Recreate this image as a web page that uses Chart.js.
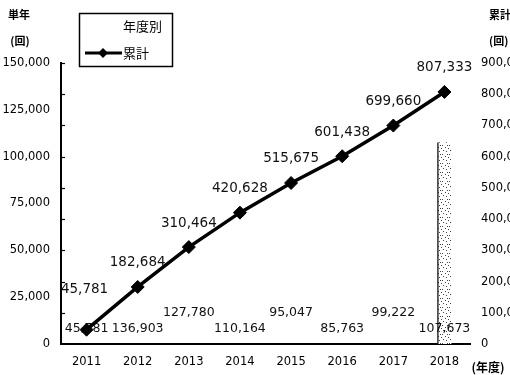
<!DOCTYPE html>
<html>
<head>
<meta charset="utf-8">
<script src="https://cdn.jsdelivr.net/npm/chart.js@4.4.0/dist/chart.umd.min.js"></script>
<style>
html, body { margin: 0; padding: 0; background: #fff; }
#wrap { width: 510px; height: 375px; position: relative; }
</style>
</head>
<body>
<div id="wrap"><canvas id="chart"></canvas></div>
<script>
// 年度別 / 累計 counts
const years = ['2011', '2012', '2013', '2014', '2015', '2016', '2017', '2018'];
const yearly = [45781, 136903, 127780, 110164, 95047, 85763, 99222, 107673];
const cumulative = [45781, 182684, 310464, 420628, 515675, 601438, 699660, 807333];
const leftTicks = [0, 25000, 50000, 75000, 100000, 125000, 150000];
const rightTicks = [0, 100000, 200000, 300000, 400000, 500000, 600000, 700000, 800000, 900000];

const fmt = v => v.toLocaleString('en-US');
const jp = '"Noto Sans CJK JP"';
const num = '"DejaVu Sans"';

// speckled fill for the last bar
function speckle() {
    const c = document.createElement('canvas');
    c.width = 7; c.height = 9;
    const g = c.getContext('2d');
    g.fillStyle = '#fff';
    g.fillRect(0, 0, 7, 9);
    g.fillStyle = '#444';
    [[1, 1], [4, 3], [2, 6], [5, 7], [0, 4], [6, 1]].forEach(p => g.fillRect(p[0], p[1], 1, 1));
    return g.createPattern(c, 'repeat');
}
const dots = speckle();

const valueLabels = {
    id: 'valueLabels',
    afterDatasetDraw(chart, args) {
        if (args.meta.type !== 'bar') return;
        const ctx = chart.ctx, area = chart.chartArea;
        ctx.save();
        ctx.fillStyle = '#111';
        ctx.textAlign = 'center';
        ctx.textBaseline = 'middle';
        ctx.font = '12.5px ' + num;
        args.meta.data.forEach((bar, i) => {
            const raised = i % 2 === 0 && i > 0;
            ctx.fillText(fmt(yearly[i]), bar.x, area.bottom - (raised ? 31 : 15));
        });
        ctx.restore();
    },
    afterDatasetsDraw(chart) {
        const ctx = chart.ctx;
        const meta = chart.getDatasetMeta(1);
        ctx.save();
        ctx.fillStyle = '#111';
        ctx.textAlign = 'center';
        ctx.textBaseline = 'middle';
        ctx.font = '13.5px ' + num;
        meta.data.forEach((pt, i) => {
            const lift = i === 0 ? 40 : 24;
            ctx.fillText(fmt(cumulative[i]), pt.x - (i === 0 ? 2 : 0), pt.y - lift);
        });
        ctx.restore();
    }
};

const decorations = {
    id: 'decorations',
    afterDraw(chart) {
        const ctx = chart.ctx, area = chart.chartArea;
        const y1 = chart.scales.y1;
        ctx.save();

        // short inward ticks on the left axis
        ctx.strokeStyle = '#000';
        ctx.lineWidth = 1.2;
        y1.ticks.forEach(t => {
            if (t.value === 0) return;
            const y = Math.round(y1.getPixelForValue(t.value)) + 0.5;
            ctx.beginPath();
            ctx.moveTo(area.left, y);
            ctx.lineTo(area.left + 4, y);
            ctx.stroke();
        });

        // axis titles
        ctx.fillStyle = '#000';
        ctx.textBaseline = 'middle';
        ctx.textAlign = 'center';
        ctx.font = 'bold 11px ' + jp;
        ctx.fillText('単年', 19, 15);
        ctx.fillText('(回)', 20, 41);
        ctx.textAlign = 'left';
        ctx.fillText('累計', 489, 15);
        ctx.fillText('(回)', 489, 41);
        ctx.textAlign = 'center';
        ctx.font = 'bold 12px ' + jp;
        ctx.fillText('(年度)', 488, 367);

        // legend box
        ctx.lineWidth = 1.5;
        ctx.strokeRect(79.5, 13.5, 93, 53);
        ctx.font = '13px ' + jp;
        ctx.textAlign = 'left';
        ctx.fillText(chart.data.datasets[0].label, 123, 26);
        ctx.fillText(chart.data.datasets[1].label, 123, 53);
        ctx.lineWidth = 3;
        ctx.beginPath();
        ctx.moveTo(85, 53);
        ctx.lineTo(122, 53);
        ctx.stroke();
        ctx.beginPath();
        ctx.moveTo(103, 48);
        ctx.lineTo(108, 53);
        ctx.lineTo(103, 58);
        ctx.lineTo(98, 53);
        ctx.closePath();
        ctx.fill();

        ctx.restore();
    }
};

new Chart(document.getElementById('chart'), {
    type: 'bar',
    data: {
        labels: years,
        datasets: [{
            type: 'bar',
            label: '年度別',
            data: yearly,
            yAxisID: 'y',
            order: 1,
            barThickness: 14,
            backgroundColor: c => c.dataIndex === yearly.length - 1 ? dots : 'rgba(255,255,255,0)',
            borderColor: '#222',
            borderWidth: c => c.dataIndex === yearly.length - 1 ? { left: 1.5, right: 0, top: 0, bottom: 0 } : 0,
            borderSkipped: false
        }, {
            type: 'line',
            label: '累計',
            data: cumulative,
            yAxisID: 'y1',
            order: 0,
            borderColor: '#000',
            borderWidth: 3.5,
            tension: 0,
            pointStyle: 'rectRot',
            pointRadius: 6.5,
            pointBackgroundColor: '#000',
            pointBorderColor: '#000',
            pointBorderWidth: 1
        }]
    },
    options: {
        responsive: true,
        maintainAspectRatio: false,
        animation: false,
        layout: { padding: { top: 63, left: 0, right: 0, bottom: 0 } },
        plugins: {
            legend: { display: false },
            tooltip: { enabled: false }
        },
        scales: {
            x: {
                offset: true,
                grid: { display: false, drawTicks: false },
                border: { display: true, color: '#000', width: 2 },
                ticks: { color: '#000', padding: 11, font: { family: 'DejaVu Sans', size: 11.5 } },
                afterFit: s => { s.height = 31; }
            },
            y: {
                position: 'left',
                min: 0,
                max: 150000,
                afterBuildTicks: s => { s.ticks = leftTicks.map(v => ({ value: v })); },
                grid: { display: false, drawTicks: false },
                border: { display: true, color: '#000', width: 2 },
                ticks: { color: '#000', padding: 11, font: { family: 'DejaVu Sans', size: 11.5 }, callback: v => fmt(v) },
                afterFit: s => { s.width = 61; }
            },
            y1: {
                position: 'right',
                min: 0,
                max: 900000,
                afterBuildTicks: s => { s.ticks = rightTicks.map(v => ({ value: v })); },
                grid: { display: false, drawTicks: false },
                border: { display: false },
                ticks: { color: '#000', padding: 11, font: { family: 'DejaVu Sans', size: 11.5 }, callback: v => fmt(v) },
                afterFit: s => { s.width = 40; }
            }
        }
    },
    plugins: [valueLabels, decorations]
});
</script>
</body>
</html>
